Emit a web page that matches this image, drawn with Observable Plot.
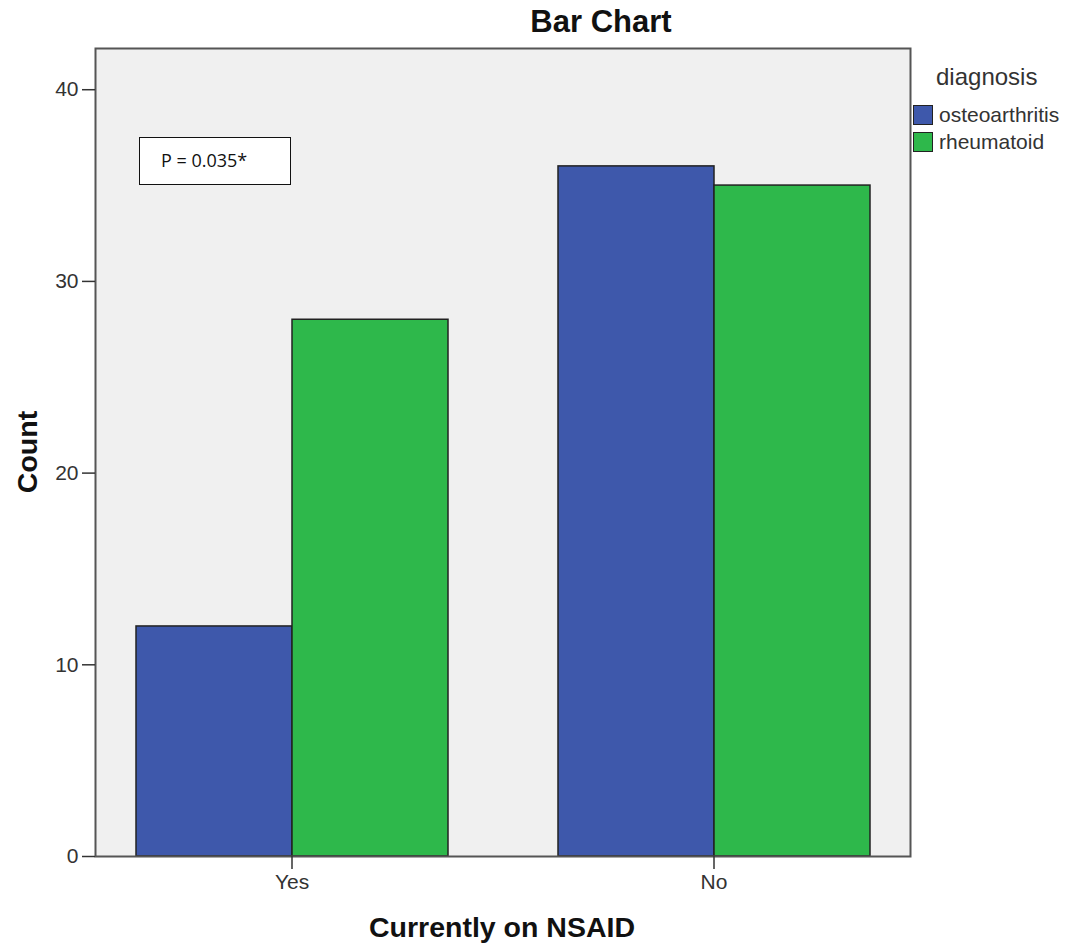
<!DOCTYPE html>
<html>
<head>
<meta charset="utf-8">
<script src="https://cdn.jsdelivr.net/npm/d3@7"></script>
<script src="https://cdn.jsdelivr.net/npm/@observablehq/plot@0.6"></script>
<style>
  html, body { margin: 0; padding: 0; background: #fff; }
  #wrap { position: relative; width: 1077px; height: 951px; font-family: "Liberation Sans", Arial, sans-serif; }
  #wrap svg { position: absolute; left: 0; top: 0; }
  .ov { position: absolute; white-space: nowrap; }
  #title { left: 601px; top: 4px; transform: translateX(-50%); font-size: 31px; font-weight: bold; color: #111; }
  #xlabel { left: 502px; top: 911px; transform: translateX(-50%); font-size: 28.5px; font-weight: bold; color: #111; }
  #ylabel { left: 27px; top: 452px; transform: translate(-50%, -50%) rotate(-90deg); font-size: 28.5px; font-weight: bold; color: #111; }
  #legend { left: 913px; top: 63px; color: #333; }
  #legend .lt { font-size: 24px; margin-left: 23px; margin-bottom: 10px; }
  #legend .row { display: flex; align-items: center; font-size: 21px; height: 27px; }
  #legend .sw { width: 18px; height: 18px; border: 1px solid #222; margin-right: 6px; }
  #pbox { left: 139px; top: 137px; width: 152px; height: 48px; border: 1.5px solid #111; background: #fff; box-sizing: border-box;
          font-family: "Open Sans", "Noto Sans", sans-serif; font-size: 18px; color: #111; line-height: 45px; padding-left: 21px; }
</style>
</head>
<body>
<div id="wrap">
  <div id="title" class="ov">Bar Chart</div>
  <div id="xlabel" class="ov">Currently on NSAID</div>
  <div id="ylabel" class="ov">Count</div>
  <div id="legend" class="ov"></div>
  <div id="pbox" class="ov">P = 0.035*</div>
</div>
<script>
const categories = ["Yes", "No"];
const diagnoses = ["osteoarthritis", "rheumatoid"];
const osteoCounts = [12, 36];
const rheumCounts = [28, 35];
const yTicks = [0, 10, 20, 30, 40];
const colors = ["#3e58ab", "#2eb84b"];

const data = [];
categories.forEach((c, i) => {
  data.push({cat: c, diag: diagnoses[0], count: osteoCounts[i]});
  data.push({cat: c, diag: diagnoses[1], count: rheumCounts[i]});
});

const chart = Plot.plot({
  width: 1077,
  height: 951,
  marginLeft: 135,
  marginRight: 207,
  marginTop: 48,
  marginBottom: 95,
  style: {background: "transparent", fontFamily: "Liberation Sans, Arial, sans-serif"},
  fx: {domain: categories, paddingInner: 0.259, paddingOuter: 0, label: null, axis: null},
  x: {domain: diagnoses, padding: 0, axis: null},
  y: {domain: [0, 42.15], axis: null},
  color: {domain: diagnoses, range: colors},
  marks: [
    Plot.frame({facet: "super", fill: "#f0f0f0", insetLeft: -40, insetRight: -40}),
    Plot.barY(data, {fx: "cat", x: "diag", y: "count", fill: "diag", stroke: "#222", strokeWidth: 1.5}),
    Plot.frame({facet: "super", stroke: "#555", strokeWidth: 2, insetLeft: -40, insetRight: -40}),
    Plot.axisY({ticks: yTicks, dx: -40, tickSize: 13, tickPadding: 4, fontSize: 21, label: null, stroke: "#333", color: "#333", strokeWidth: 1.5}),
    Plot.axisFx({anchor: "bottom", tickSize: 13, tickPadding: 5, fontSize: 21, label: null, stroke: "#333", color: "#333", strokeWidth: 1.5})
  ]
});
document.getElementById("wrap").prepend(chart);

const legend = document.getElementById("legend");
const lt = document.createElement("div");
lt.className = "lt";
lt.textContent = "diagnosis";
legend.appendChild(lt);
diagnoses.forEach((d, i) => {
  const row = document.createElement("div");
  row.className = "row";
  const sw = document.createElement("span");
  sw.className = "sw";
  sw.style.background = colors[i];
  row.appendChild(sw);
  const t = document.createElement("span");
  t.textContent = d;
  row.appendChild(t);
  legend.appendChild(row);
});
</script>
</body>
</html>
